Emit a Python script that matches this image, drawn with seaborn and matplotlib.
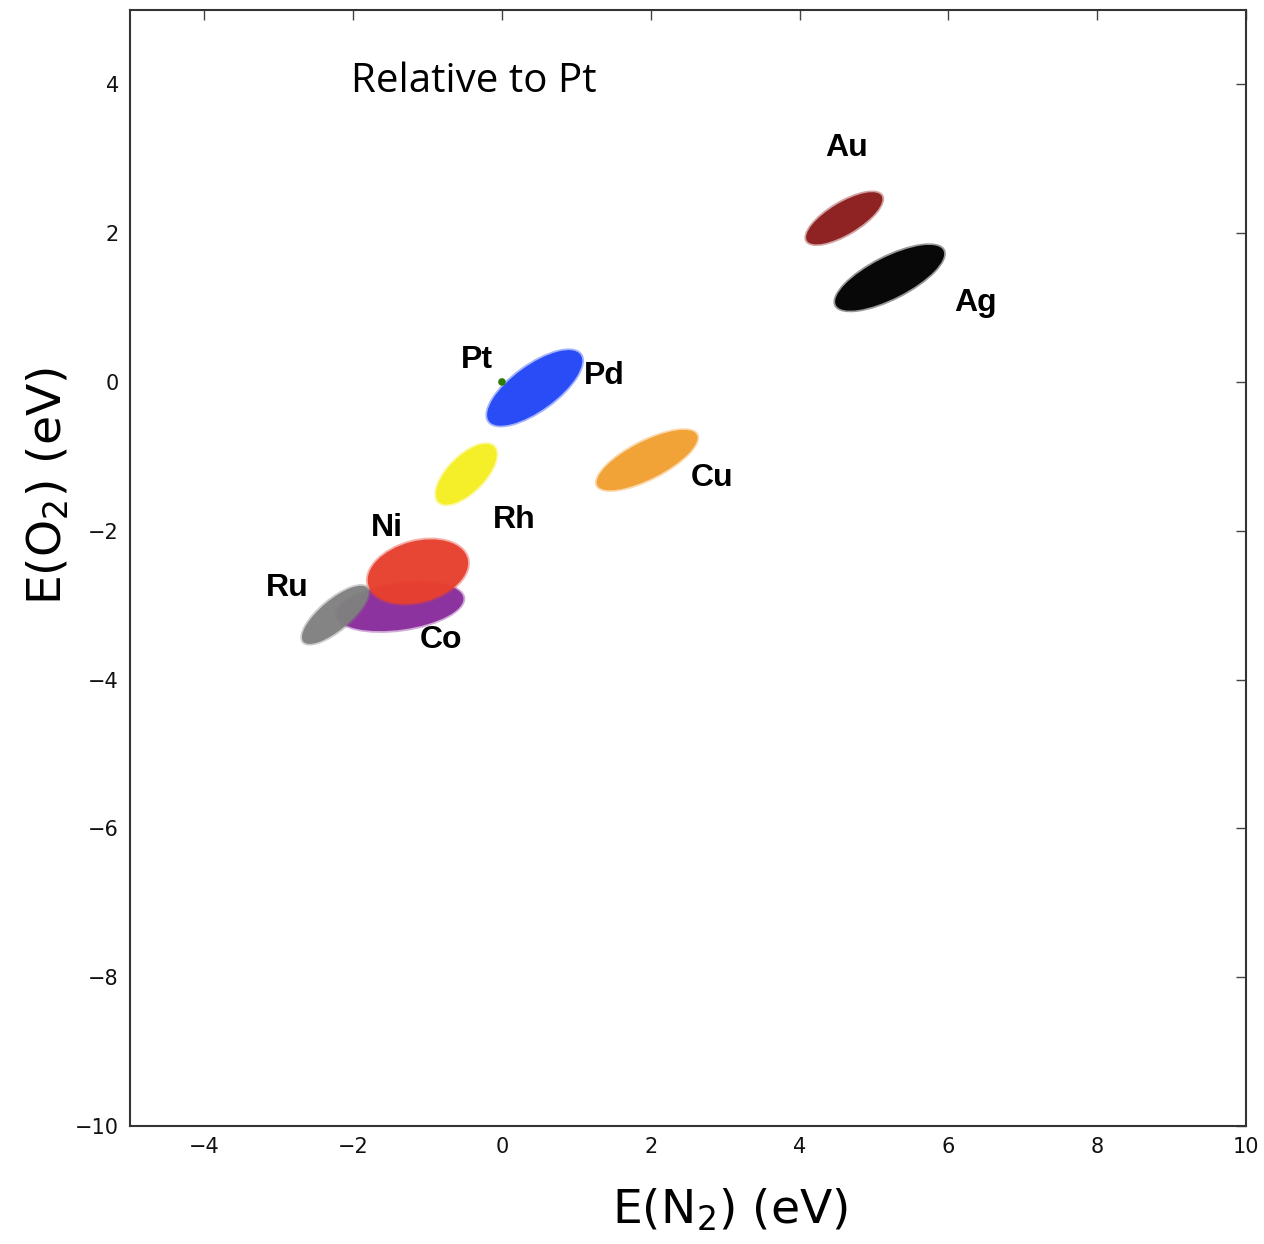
import numpy as np
import pandas as pd
import matplotlib
matplotlib.use("Agg")
import matplotlib.pyplot as plt
from matplotlib.patches import Ellipse
import seaborn as sns

# ---- Cluster data ----
metals = ["Co", "Ni", "Ru", "Rh", "Pd", "Cu", "Ag", "Au"]
center_n2 = [-1.37, -1.13, -2.24, -0.48, 0.44, 1.95, 5.21, 4.60]
center_o2 = [-3.02, -2.55, -3.13, -1.24, -0.08, -1.05, 1.40, 2.20]
long_axis = [1.72, 1.38, 1.12, 1.05, 1.52, 1.50, 1.62, 1.17]
short_axis = [0.62, 0.82, 0.40, 0.48, 0.60, 0.50, 0.55, 0.42]
tilt_deg = [8, 15, 40, 45, 36, 27, 27, 31]
colors = ["#8a2d9c", "#e8402f", "#808080", "#f5ef22", "#2246f7",
          "#f2a032", "#000000", "#8c1c1c"]

# reference point
pt_n2 = [0.0]
pt_o2 = [0.0]

# label positions
label_names = ["Au", "Ag", "Pd", "Pt", "Cu", "Rh", "Ni", "Ru", "Co"]
label_x = [4.63, 6.36, 1.37, -0.34, 2.82, 0.17, -1.55, -2.88, -0.82]
label_y = [3.14, 1.06, 0.08, 0.30, -1.29, -1.85, -1.96, -2.77, -3.47]

x_ticks = [-4, -2, 0, 2, 4, 6, 8, 10]
y_ticks = [-10, -8, -6, -4, -2, 0, 2, 4]

# ---- Plot ----
sns.set_style("white")
fig = plt.figure(figsize=(12.64, 12.44), dpi=100)
ax = fig.add_axes([0.1028, 0.0949, 0.8830, 0.8971])

for i, m in enumerate(metals):
    # soft outer halo then solid core to mimic a dense point cloud
    ax.add_patch(Ellipse((center_n2[i], center_o2[i]), long_axis[i] + 0.05, short_axis[i] + 0.05,
                         angle=tilt_deg[i], facecolor=colors[i], edgecolor="none", alpha=0.4, zorder=2 + i * 0.01))
    ax.add_patch(Ellipse((center_n2[i], center_o2[i]), long_axis[i], short_axis[i],
                         angle=tilt_deg[i], facecolor=colors[i], edgecolor="none", alpha=0.95, zorder=2 + i * 0.01))

pt_df = pd.DataFrame({"n2": pt_n2, "o2": pt_o2})
sns.scatterplot(data=pt_df, x="n2", y="o2", color="#2e7d0a", s=30, edgecolor="none", ax=ax, zorder=5)

for name, lx, ly in zip(label_names, label_x, label_y):
    ax.text(lx, ly, name, fontsize=23, fontweight="bold", family="Liberation Sans",
            color="black", ha="center", va="center", zorder=6)

ax.text(-0.38, 4.04, "Relative to Pt", fontsize=29, family="Open Sans", color="black",
        ha="center", va="center")

ax.set_xlim(-5, 10)
ax.set_ylim(-10, 5)
ax.set_xticks(x_ticks)
ax.set_yticks(y_ticks)
ax.tick_params(direction="in", length=7, width=1, top=True, right=True, labelsize=15, pad=8,
               colors="#444444", labelcolor="#111111")
for s in ax.spines.values():
    s.set_linewidth(1.5)
    s.set_color("#333333")

ax.set_xlabel(r"E(N$_2$) (eV)", fontsize=34, color="black")
ax.set_ylabel(r"E(O$_2$) (eV)", fontsize=34, color="black")
ax.xaxis.set_label_coords(0.538, -0.055)
ax.yaxis.set_label_coords(-0.052, 0.573)

fig.savefig("out.png", dpi=100)
